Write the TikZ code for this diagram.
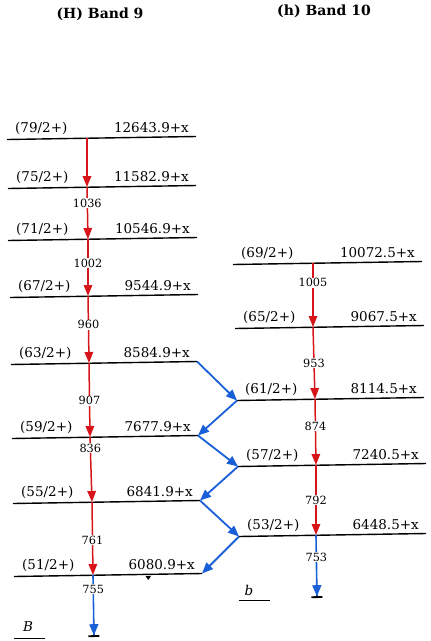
\documentclass[tikz,border=0pt]{standalone}
\usepackage{fontspec}
\setmainfont{DejaVu Serif}
\usetikzlibrary{arrows.meta}
\definecolor{tred}{RGB}{215,20,25}
\definecolor{tblue}{RGB}{25,95,215}
\tikzset{
 levelline/.style={line width=1.4pt, black},
 spinlab/.style={anchor=base west, inner sep=0pt, font=\fontsize{13.5}{16}\selectfont},
 enlab/.style={anchor=base east, inner sep=0pt, font=\fontsize{13.5}{16}\selectfont},
 tlab/.style={fill=white, text=black, inner sep=0.8pt, font=\fontsize{11.3}{13}\selectfont},
 redarrow/.style={tred, line width=1.5pt, -{Triangle[length=11pt,width=8.5pt]}},
 bluearrow/.style={tblue, line width=1.8pt, -{Triangle[length=11pt,width=9pt]}},
 bluestop/.style={tblue, line width=1.6pt, -{Triangle[length=11pt,width=9pt] Bar[color=black,width=11pt,line width=1.8pt]}},
 titlelab/.style={font=\bfseries\fontsize{14}{17}\selectfont},
 bandlab/.style={font=\itshape\fontsize{13.5}{16}\selectfont, inner sep=0pt},
}
\newcommand\mylevel[6]{%
  \coordinate (#1L) at (#2,#4+1.5);
  \coordinate (#1R) at (#3,#4-1.5);
  \draw[levelline] (#1L) -- (#1R);
  \node[spinlab] (#1s) at (#2+8,#4-6) {#5};
  \node[enlab] (#1e) at (#3-7,#4-6) {#6};
}
\begin{document}
\begin{tikzpicture}[x=1pt,y=-1pt]
\useasboundingbox (0,0) rectangle (431,641);
\node[titlelab] (t9) at (100,14) {(H) Band 9};
\node[titlelab] (t10) at (324,11) {(h) Band 10};
% Band 9
\mylevel{L79}{7}{196}{138}{(79/2+)}{12643.9+x}
\mylevel{L75}{8}{196}{187}{(75/2+)}{11582.9+x}
\mylevel{L71}{8}{197}{239}{(71/2+)}{10546.9+x}
\mylevel{L67}{10}{198}{296}{(67/2+)}{9544.9+x}
\mylevel{L63}{11}{197}{363}{(63/2+)}{8584.9+x}
\mylevel{L59}{12}{198}{437}{(59/2+)}{7677.9+x}
\mylevel{L55}{13}{200}{502}{(55/2+)}{6841.9+x}
\mylevel{L51}{14}{202}{575}{(51/2+)}{6080.9+x}
% Band 10
\mylevel{L69}{233}{422}{263}{(69/2+)}{10072.5+x}
\mylevel{L65}{235}{424}{327}{(65/2+)}{9067.5+x}
\mylevel{L61}{237}{424}{399}{(61/2+)}{8114.5+x}
\mylevel{L57}{238}{426}{465}{(57/2+)}{7240.5+x}
\mylevel{L53}{239}{426}{535}{(53/2+)}{6448.5+x}
% red arrow points
\coordinate (r79) at (87,138);
\coordinate (r75) at (87,187);
\coordinate (r71) at (88,239);
\coordinate (r67) at (88,296);
\coordinate (r63) at (89,363);
\coordinate (r59) at (90,437);
\coordinate (r55) at (92,502);
\coordinate (r51) at (93,575);
\coordinate (rB) at (94,637);
\coordinate (s69) at (313,263);
\coordinate (s65) at (313,327);
\coordinate (s61) at (315,399);
\coordinate (s57) at (316,465);
\coordinate (s53) at (316,535);
\coordinate (sb) at (317,598);
\draw[redarrow] (r79) -- (r75);
\draw[redarrow] (r75) -- node[tlab,pos=0.31] (g1036) {1036} (r71);
\draw[redarrow] (r71) -- node[tlab,pos=0.42] (g1002) {1002} (r67);
\draw[redarrow] (r67) -- node[tlab,pos=0.43] (g960) {960} (r63);
\draw[redarrow] (r63) -- node[tlab,pos=0.51] (g907) {907} (r59);
\draw[redarrow] (r59) -- node[tlab,pos=0.17] (g836) {836} (r55);
\draw[redarrow] (r55) -- node[tlab,pos=0.52] (g761) {761} (r51);
\draw[bluestop] (r51) -- node[tlab,pos=0.23] (g755) {755} (rB);
\draw[redarrow] (s69) -- node[tlab,pos=0.31] (g1005) {1005} (s65);
\draw[redarrow] (s65) -- node[tlab,pos=0.5] (g953) {953} (s61);
\draw[redarrow] (s61) -- node[tlab,pos=0.41] (g874) {874} (s57);
\draw[redarrow] (s57) -- node[tlab,pos=0.5] (g792) {792} (s53);
\draw[bluestop] (s53) -- node[tlab,pos=0.35] (g753) {753} (sb);
% interband
\draw[bluearrow] (L63R) -- (L61L);
\draw[bluearrow] (L61L) -- (L59R);
\draw[bluearrow] (L59R) -- (L57L);
\draw[bluearrow] (L57L) -- (L55R);
\draw[bluearrow] (L55R) -- (L53L);
\draw[bluearrow] (L53L) -- (L51R);
% marker
\fill (145.5,576) -- (151,576) -- (148.2,580) -- cycle;
% band labels
\node[bandlab] (lB) at (28,627) {B};
\draw[line width=1pt] (14,638) -- (45,638);
\node[bandlab] (lb) at (249,590) {b};
\draw[line width=1pt] (239,600) -- (270,600);
\end{tikzpicture}
\end{document}
